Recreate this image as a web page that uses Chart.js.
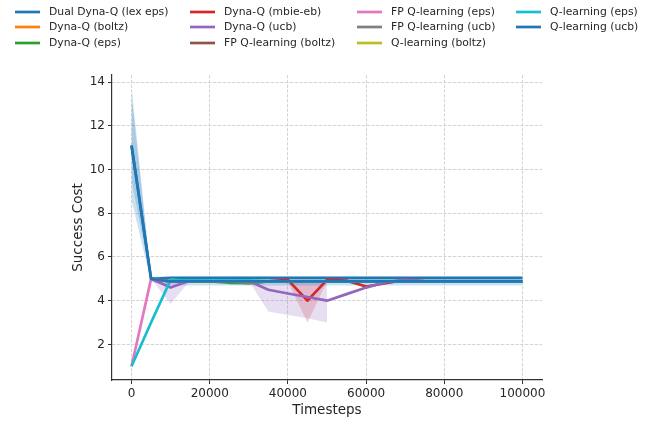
<!DOCTYPE html>
<html>
<head>
<meta charset="utf-8">
<script src="https://cdn.jsdelivr.net/npm/chart.js@4"></script>
<style>
  html, body { margin: 0; padding: 0; background: #fff; }
  canvas { display: block; }
</style>
</head>
<body>
<canvas id="chart" width="652" height="421"></canvas>
<script>
// x positions of the evaluation points
const timesteps = [0, 5000, 10000, 15000, 20000, 25000, 30000, 35000, 40000, 45000, 50000,
                   55000, 60000, 65000, 70000, 75000, 80000, 85000, 90000, 95000, 100000];
const xTicks = [0, 20000, 40000, 60000, 80000, 100000];
const yTicks = [2, 4, 6, 8, 10, 12, 14];

// mean success cost per method (null = not shown at that step)
const dualDynaQLexEps = [11.1, 5.0, 5.04, 5.04, 5.04, 5.04, 5.04, 5.04, 5.04, 5.04, 5.04, 5.04, 5.04, 5.04, 5.04, 5.04, 5.04, 5.04, 5.04, 5.04, 5.04];
const dynaQBoltz      = [null, 5.0, 4.88, 4.88, 4.88, 4.88, 4.88, 4.88, 4.88, 4.88, 4.88, 4.88, 4.88, 4.88, 4.88, 4.88, 4.88, 4.88, 4.88, 4.88, 4.88];
const dynaQEps        = [null, 5.0, 4.88, 4.88, 4.88, 4.82, 4.8, 4.88, 4.88, 4.88, 4.88, 4.88, 4.88, 4.88, 4.88, 4.88, 4.88, 4.88, 4.88, 4.88, 4.88];
const dynaQMbieEb     = [null, 5.0, 4.88, 4.88, 4.88, 4.88, 4.88, 4.88, 4.95, 4.0, 4.95, 4.92, 4.65, 4.8, 4.95, 4.88, 4.88, 4.88, 4.88, 4.88, 4.88];
const dynaQUcb        = [null, 5.0, 4.6, 4.92, 4.88, 4.88, 4.9, 4.5, 4.33, 4.17, 4.0, 4.3, 4.6, 4.85, 4.95, 4.88, 4.88, 4.88, 4.88, 4.88, 4.88];
const fpQBoltz        = [null, 5.0, 4.88, 4.88, 4.88, 4.88, 4.88, 4.88, 4.88, 4.88, 4.88, 4.88, 4.88, 4.88, 4.88, 4.88, 4.88, 4.88, 4.88, 4.88, 4.88];
const fpQEps          = [1.0, 5.0, 4.88, 4.88, 4.88, 4.88, 4.88, 4.88, 4.88, 4.88, 4.88, 4.88, 4.88, 4.88, 4.88, 4.88, 4.88, 4.88, 4.88, 4.88, 4.88];
const fpQUcb          = [null, null, 4.95, 4.88, 4.88, 4.88, 4.8, 4.88, 4.88, 4.88, 4.88, 4.88, 4.88, 4.88, 4.88, 4.88, 4.88, 4.88, 4.88, 4.88, 4.88];
const qBoltz          = [null, null, 4.95, 4.88, 4.88, 4.88, 4.88, 4.88, 4.88, 4.88, 4.88, 4.88, 4.88, 4.88, 4.88, 4.88, 4.88, 4.88, 4.88, 4.88, 4.88];
const qEps            = [1.0, 3.0, 4.95, 4.92, 4.92, 4.92, 4.92, 4.88, 4.88, 4.88, 4.88, 4.88, 4.88, 4.88, 4.88, 4.88, 4.88, 4.88, 4.88, 4.88, 4.88];
const qUcb            = [11.1, 5.0, 4.88, 4.88, 4.88, 4.88, 4.88, 4.88, 4.88, 4.88, 4.88, 4.88, 4.88, 4.88, 4.88, 4.88, 4.88, 4.88, 4.88, 4.88, 4.88];

// spread bands (lower / upper), null = no band
const dualDynaQLexEpsLow  = [9.5, 4.95, 4.95, 4.95, 4.95, 4.95, 4.95, 4.95, 4.95, 4.95, 4.95, 4.95, 4.95, 4.95, 4.95, 4.95, 4.95, 4.95, 4.95, 4.95, 4.95];
const dualDynaQLexEpsHigh = [13.8, 5.1, 5.1, 5.1, 5.1, 5.1, 5.1, 5.1, 5.1, 5.1, 5.1, 5.1, 5.1, 5.1, 5.1, 5.1, 5.1, 5.1, 5.1, 5.1, 5.1];
const dynaQMbieEbLow  = [null, null, null, null, null, null, null, null, 4.88, 3.0, 4.88, null, null, null, null, null, null, null, null, null, null];
const dynaQMbieEbHigh = [null, null, null, null, null, null, null, null, 4.88, 4.95, 4.88, null, null, null, null, null, null, null, null, null, null];
const dynaQUcbLow  = [null, 5.0, 3.85, 4.92, 4.88, 4.88, 4.9, 3.5, 3.35, 3.2, 3.0, null, null, null, null, null, null, null, null, null, null];
const dynaQUcbHigh = [null, 5.0, 4.95, 4.95, 4.95, 4.95, 4.95, 4.95, 4.95, 4.95, 4.95, null, null, null, null, null, null, null, null, null, null];
const qUcbLow  = [8.6, 4.85, 4.7, 4.7, 4.7, 4.7, 4.7, 4.7, 4.7, 4.7, 4.7, 4.7, 4.7, 4.7, 4.7, 4.7, 4.7, 4.7, 4.7, 4.7, 4.7];
const qUcbHigh = [13.4, 5.05, 4.98, 4.98, 4.98, 4.98, 4.98, 4.98, 4.98, 4.98, 4.98, 4.98, 4.98, 4.98, 4.98, 4.98, 4.98, 4.98, 4.98, 4.98, 4.98];

const seriesNames = ['Dual Dyna-Q (lex eps)', 'Dyna-Q (boltz)', 'Dyna-Q (eps)', 'Dyna-Q (mbie-eb)',
  'Dyna-Q (ucb)', 'FP Q-learning (boltz)', 'FP Q-learning (eps)', 'FP Q-learning (ucb)',
  'Q-learning (boltz)', 'Q-learning (eps)', 'Q-learning (ucb)'];
const seriesValues = [dualDynaQLexEps, dynaQBoltz, dynaQEps, dynaQMbieEb, dynaQUcb, fpQBoltz,
  fpQEps, fpQUcb, qBoltz, qEps, qUcb];
const seriesColors = ['#1f77b4', '#ff7f0e', '#2ca02c', '#d62728', '#9467bd', '#8c564b',
  '#e377c2', '#7f7f7f', '#bcbd22', '#17becf', '#1f77b4'];
const bands = [
  { series: 0, low: dualDynaQLexEpsLow, high: dualDynaQLexEpsHigh },
  { series: 3, low: dynaQMbieEbLow, high: dynaQMbieEbHigh },
  { series: 4, low: dynaQUcbLow, high: dynaQUcbHigh },
  { series: 10, low: qUcbLow, high: qUcbHigh }
];

const toPoints = arr => timesteps.map((x, i) => ({ x: x, y: arr[i] }));
function alpha(hex, a) {
  const n = parseInt(hex.slice(1), 16);
  return 'rgba(' + (n >> 16) + ',' + ((n >> 8) & 255) + ',' + (n & 255) + ',' + a + ')';
}

const datasets = [];
bands.forEach((b, k) => {
  datasets.push({
    data: toPoints(b.high), borderWidth: 0, pointRadius: 0, fill: false,
    order: 1000 - k * 2
  });
  datasets.push({
    data: toPoints(b.low), borderWidth: 0, pointRadius: 0, fill: '-1',
    backgroundColor: alpha(seriesColors[b.series], 0.22),
    order: 999 - k * 2
  });
});
seriesValues.forEach((vals, i) => {
  datasets.push({
    label: seriesNames[i],
    data: toPoints(vals),
    borderColor: seriesColors[i],
    borderWidth: 2.7,
    pointRadius: 0,
    fill: false,
    tension: 0,
    borderJoinStyle: 'round',
    borderCapStyle: 'butt',
    order: 100 - i
  });
});

// legend drawn like matplotlib: 4 columns, filled column by column
const legendPlugin = {
  id: 'mplLegend',
  afterDraw(chart) {
    const ctx = chart.ctx;
    const colX = [15, 190, 357, 516];
    const rowY = [12, 27, 43];
    ctx.save();
    ctx.font = '10.8px "DejaVu Sans"';
    ctx.textBaseline = 'middle';
    seriesNames.forEach((name, i) => {
      const x = colX[Math.floor(i / 3)];
      const y = rowY[i % 3];
      ctx.strokeStyle = seriesColors[i];
      ctx.lineWidth = 2.7;
      ctx.beginPath();
      ctx.moveTo(x, y);
      ctx.lineTo(x + 25, y);
      ctx.stroke();
      ctx.fillStyle = '#262626';
      ctx.fillText(name, x + 34, y + 0.5);
    });
    ctx.restore();
  }
};

const gridStyle = { color: '#d4d4d4', lineWidth: 1, tickColor: '#333', tickLength: 4, tickWidth: 1 };

new Chart(document.getElementById('chart'), {
  type: 'line',
  data: { datasets: datasets },
  options: {
    responsive: false,
    animation: false,
    devicePixelRatio: 1,
    layout: { padding: { top: 75, right: 110, left: 0, bottom: 0 } },
    plugins: { legend: { display: false }, tooltip: { enabled: false } },
    scales: {
      x: {
        type: 'linear',
        min: -5000,
        max: 105000,
        afterBuildTicks: s => { s.ticks = xTicks.map(v => ({ value: v })); },
        afterFit: s => { s.height = 41; },
        grid: gridStyle,
        border: { display: true, color: '#333', width: 1.2, dash: [3.3, 1.5] },
        ticks: {
          color: '#262626', padding: 3, maxRotation: 0,
          font: { family: 'DejaVu Sans', size: 12 },
          callback: v => String(v)
        },
        title: {
          display: true, text: 'Timesteps', color: '#262626',
          font: { family: 'DejaVu Sans', size: 13.5 },
          padding: { top: 0, bottom: 2 }
        }
      },
      y: {
        type: 'linear',
        min: 0.37,
        max: 14.33,
        afterBuildTicks: s => { s.ticks = yTicks.map(v => ({ value: v })); },
        afterFit: s => { s.width = 112; },
        grid: gridStyle,
        border: { display: true, color: '#333', width: 1.2, dash: [3.3, 1.5] },
        ticks: {
          color: '#262626', padding: 3,
          font: { family: 'DejaVu Sans', size: 12 },
          callback: v => String(v)
        },
        title: {
          display: true, text: 'Success Cost', color: '#262626',
          font: { family: 'DejaVu Sans', size: 13.5 },
          padding: { top: 70, bottom: 0 }
        }
      }
    }
  },
  plugins: [legendPlugin]
});
</script>
</body>
</html>
